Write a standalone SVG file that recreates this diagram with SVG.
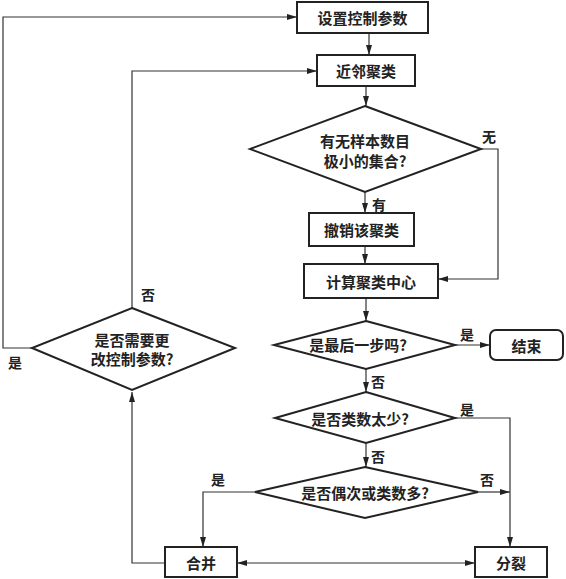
<svg xmlns="http://www.w3.org/2000/svg" width="566" height="579" viewBox="0 0 566 579">
<defs>
<marker id="ah" viewBox="0 0 10 6" refX="10" refY="3" markerWidth="10" markerHeight="6" markerUnits="userSpaceOnUse" orient="auto-start-reverse">
<path d="M0,0 L10,3 L0,6 Z" fill="#222"/>
</marker>
</defs>
<style>
.box{fill:#fff;stroke:#222;stroke-width:2}
.dia{fill:#fff;stroke:#222;stroke-width:2}
.ln{fill:none;stroke:#333;stroke-width:1.2}
.arr{fill:none;stroke:#333;stroke-width:1.2;marker-end:url(#ah)}
.t{font-family:"Noto Sans CJK SC","Noto Sans CJK TC",sans-serif;font-size:15px;font-weight:bold;fill:#222;text-anchor:middle;dominant-baseline:central}
.lb{font-family:"Noto Sans CJK SC","Noto Sans CJK TC",sans-serif;font-size:14px;font-weight:bold;fill:#222;text-anchor:middle;dominant-baseline:central}
</style>
<rect width="566" height="579" fill="#fff"/>
<g id="connectors">
<line class="arr" x1="369" y1="33" x2="369" y2="55"/>
<line class="arr" x1="366" y1="86" x2="366" y2="106"/>
<line class="arr" x1="365" y1="192" x2="365" y2="213"/>
<polyline class="arr" points="481,149 498,149 498,279 438,279"/>
<line class="arr" x1="365" y1="246" x2="365" y2="264"/>
<line class="arr" x1="366" y1="298" x2="366" y2="321"/>
<line class="arr" x1="455" y1="345" x2="490" y2="345"/>
<line class="arr" x1="366" y1="369" x2="366" y2="392"/>
<polyline class="arr" points="455,418 510,418 510,547"/>
<line class="arr" x1="366" y1="443" x2="366" y2="467"/>
<line class="arr" x1="478" y1="492" x2="510" y2="492"/>
<polyline class="arr" points="255,492 203,492 203,547"/>
<line class="arr" x1="237" y1="563" x2="475" y2="563" style="marker-start:url(#ah)"/>
<polyline class="arr" points="165,563 132,563 132,392"/>
<polyline class="arr" points="32,348 3,348 3,17 297,17"/>
<polyline class="arr" points="132,308 132,71 317,71"/>
<text class="lb" x="489" y="136">无</text>
<text class="lb" x="379" y="204">有</text>
<text class="lb" x="467" y="334">是</text>
<text class="lb" x="378" y="381">否</text>
<text class="lb" x="467" y="409">是</text>
<text class="lb" x="378" y="456">否</text>
<text class="lb" x="218" y="479">是</text>
<text class="lb" x="487" y="479">否</text>
<text class="lb" x="148" y="294">否</text>
<text class="lb" x="15" y="362">是</text>
</g>
<g id="n1"><rect class="box" x="297" y="2" width="131" height="31"/><text class="t" x="362.5" y="17.5">设置控制参数</text></g>
<g id="n2"><rect class="box" x="317" y="55" width="98" height="31"/><text class="t" x="366" y="70.5">近邻聚类</text></g>
<g id="n3"><polygon class="dia" points="365,106 481,149 365,192 250,149"/><text class="t" x="365" y="140">有无样本数目</text><text class="t" x="365" y="160">极小的集合?</text></g>
<g id="n4"><rect class="box" x="309" y="213" width="105" height="33"/><text class="t" x="361.5" y="229.5">撤销该聚类</text></g>
<g id="n5"><rect class="box" x="304" y="264" width="134" height="34"/><text class="t" x="371" y="281">计算聚类中心</text></g>
<g id="n6"><polygon class="dia" points="366,321 455,345 366,369 274,345"/><text class="t" x="358" y="344">是最后一步吗?</text></g>
<g id="n7"><rect class="box" x="490" y="330" width="73" height="30" rx="6"/><text class="t" x="526.5" y="345">结束</text></g>
<g id="n8"><polygon class="dia" points="366,392 455,418 366,443 275,418"/><text class="t" x="360" y="418">是否类数太少?</text></g>
<g id="n9"><polygon class="dia" points="365,467 478,492 365,518 255,492"/><text class="t" x="365" y="492">是否偶次或类数多?</text></g>
<g id="n10"><rect class="box" x="165" y="547" width="72" height="30"/><text class="t" x="201" y="562">合并</text></g>
<g id="n11"><rect class="box" x="475" y="547" width="72" height="30"/><text class="t" x="511" y="562">分裂</text></g>
<g id="n12"><polygon class="dia" points="132,308 235,348 132,390 32,348"/><text class="t" x="132" y="339">是否需要更</text><text class="t" x="132" y="358">改控制参数?</text></g>
</svg>
